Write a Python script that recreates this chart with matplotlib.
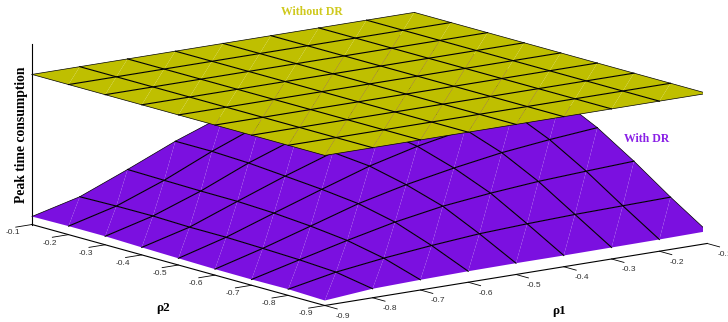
"""Peak time consumption with and without DR, as two surfaces over rho1 / rho2."""
import numpy as np
import matplotlib
matplotlib.use("Agg")
import matplotlib.pyplot as plt
from mpl_toolkits.mplot3d import proj3d

rho1 = [-0.9, -0.8, -0.7, -0.6, -0.5, -0.4, -0.3, -0.2, -0.1]
rho2 = [-0.9, -0.8, -0.7, -0.6, -0.5, -0.4, -0.3, -0.2, -0.1]
tick_labels = ["-0.9", "-0.8", "-0.7", "-0.6", "-0.5", "-0.4", "-0.3", "-0.2", "-0.1"]

# rows follow rho1, columns follow rho2 (no z ticks in the original, values are relative)
with_dr = [
    [5.0, 6.2, 5.8, 6.0, 6.7, 7.5, 8.5, 8.5, 8.0],
    [9.0, 15.5, 17.7, 19.0, 20.0, 20.0, 21.0, 20.8, 20.0],
    [10.2, 21.7, 29.3, 33.5, 36.4, 38.0, 38.2, 38.8, 39.5],
    [11.0, 26.6, 39.9, 48.2, 52.4, 55.5, 58.5, 60.0, 60.0],
    [11.3, 30.6, 48.0, 59.4, 67.9, 71.5, 75.5, 78.7, 77.5],
    [11.25, 32.8, 53.3, 68.3, 79.9, 86.0, 90.0, 94.0, 95.0],
    [11.5, 34.4, 57.3, 75.9, 89.0, 98.0, 103.0, 108.0, 110.0],
    [11.75, 35.3, 59.8, 81.2, 97.7, 108.0, 114.0, 120.0, 123.0],
    [12.3, 36.2, 62.0, 85.4, 103.6, 115.0, 122.0, 128.0, 132.0],
]
without_dr = [[150.0] * 9] * 9

PURPLE = "#7b10e0"
OLIVE = "#bfbf00"

X, Y = np.meshgrid(rho1, rho2, indexing="ij")
n = len(rho1)
tris = []
for i in range(n - 1):
    for j in range(n - 1):
        a = i * n + j
        tris.append([a, a + n, a + n + 1])
        tris.append([a, a + n + 1, a + 1])

fig = plt.figure(figsize=(7.28, 3.22), dpi=100)
S = 685.0
ax = fig.add_axes([17.8 / 728, -173.7 / 322, S / 728, S / 322],
                  projection="3d", proj_type="ortho", computed_zorder=False)
ax.view_init(elev=12.23, azim=-127.45)
ax.set_box_aspect((1, 1, 0.3826))
ax.set_xlim(-0.9, -0.1, view_margin=0)
ax.set_ylim(-0.9, -0.1, view_margin=0)
ax.set_zlim(0, 180, view_margin=0)
ax.patch.set_alpha(0)


def draw_mesh(z, color, order, front_edges):
    Z = np.array(z)
    # triangles without edges leave the pale seams along the cell diagonals
    ax.plot_trisurf(X.ravel(), Y.ravel(), tris, Z.ravel(), color=color, shade=False,
                    linewidth=0, antialiased=True, zorder=order)
    for k in range(n):
        # the outline is only a hairline in the original, the inner lines are solid
        lw = 0.8
        if k == 0:
            lw = 0.5 if front_edges else 0
        if k == n - 1:
            lw = 0.5
        if lw > 0:
            ax.plot(X[k], Y[k], Z[k], color="black", lw=lw, zorder=order + 1)
            ax.plot(X[:, k], Y[:, k], Z[:, k], color="black", lw=lw, zorder=order + 1)


draw_mesh(with_dr, PURPLE, 1, False)
draw_mesh(without_dr, OLIVE, 3, True)

ax.set_xticks(rho1)
ax.set_yticks(rho2)
ax.set_xticklabels([""] * n)
ax.set_yticklabels([""] * n)
ax.set_zticks([])
ax.grid(False)
for axis in (ax.xaxis, ax.yaxis, ax.zaxis):
    axis.pane.set_visible(False)
    axis.line.set_color("black")
    axis.line.set_linewidth(0.8)
    axis._axinfo["tick"]["inward_factor"] = 0
    # negative: with this view the positive direction points into the box
    axis._axinfo["tick"]["outward_factor"] = -0.53
    axis._axinfo["tick"]["linewidth"] = {True: 0.6, False: 0.6}
    axis._axinfo["tick"]["color"] = "#262626"

# tick labels sit at the end of each tick, the axis pad can't place them like the original
M = ax.get_proj()
sans = dict(family="Liberation Sans", fontsize=6, color="#303030", ha="center", va="center",
            transform=ax.transData)
for v, label in zip(rho1, tick_labels):
    px, py, _ = proj3d.proj_transform(v, -0.9485, -6.0, M)
    ax.text2D(px, py, label, **sans)
for v, label in zip(rho2, tick_labels):
    px, py, _ = proj3d.proj_transform(-0.9394, v, -5.4, M)
    ax.text2D(px, py, label, **sans)

serif = dict(family="Liberation Serif", fontweight="bold", ha="center", va="center")
fig.text(22 / 728, 1 - 135 / 322, "Peak time consumption", rotation=90, fontsize=9.8, color="black", **serif)
fig.text(163 / 728, 1 - 308 / 322, "ρ2", fontsize=9.5, color="black", **serif)
fig.text(559 / 728, 1 - 311 / 322, "ρ1", fontsize=9.5, color="black", **serif)
fig.text(312 / 728, 1 - 12 / 322, "Without DR", fontsize=8.5, color="#cfc91e", **serif)
fig.text(647 / 728, 1 - 139 / 322, "With DR", fontsize=8.5, color="#8a20e6", **serif)

fig.savefig("out.png", dpi=100)
